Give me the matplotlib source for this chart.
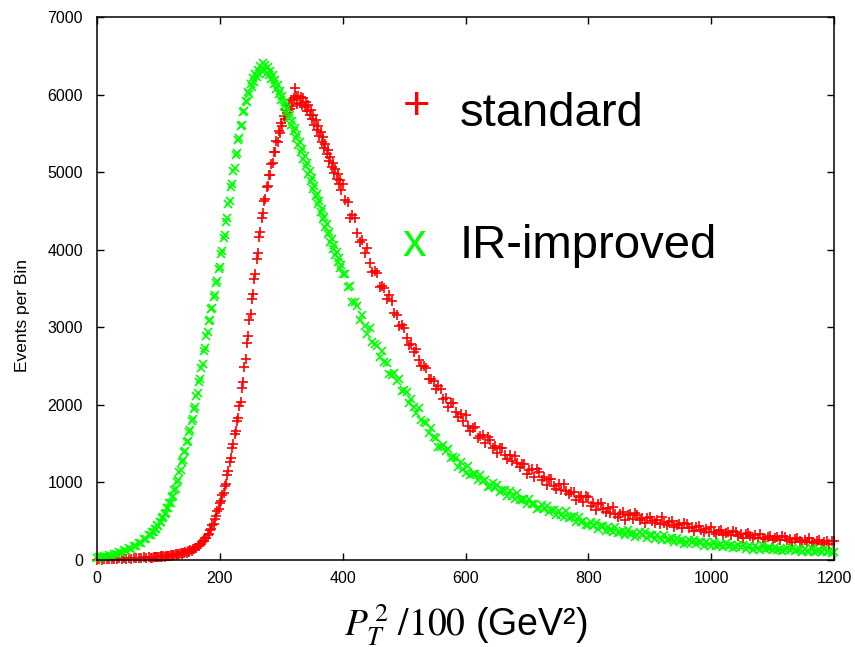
import numpy as np
import matplotlib
matplotlib.use("Agg")
import matplotlib.pyplot as plt

plt.rcParams["font.family"] = ["Liberation Sans", "DejaVu Sans"]
plt.rcParams["mathtext.fontset"] = "stix"

# Bin centres in PT^2/100: every 4 on the flat low end and the tail,
# every 2 around the peaks.
bins_low = np.arange(0, 90, 4)
bins_peak = np.arange(90, 400, 2)
bins_tail = np.arange(400, 1201, 4)

# Events per bin, standard shower
std_low = [2, 11, 5, 14, 7, 16, 9, 19, 12, 21, 14, 24, 17, 27, 19, 29, 21,
           32, 24, 34, 26, 37, 29]
std_peak = [
    31, 39, 34, 42, 37,
    44, 39, 47, 42, 50,
    45, 54, 49, 58, 53,
    62, 57, 67, 61, 72,
    67, 78, 72, 84, 79,
    89, 86, 99, 96, 111,
    106, 123, 121, 140, 137,
    157, 159, 183, 185, 209,
    210, 241, 248, 279, 286,
    318, 336, 382, 399, 446,
    462, 531, 561, 633, 659,
    734, 761, 839, 866, 958,
    985, 1097, 1144, 1261, 1314,
    1441, 1489, 1619, 1664, 1791,
    1829, 1983, 2041, 2214, 2297,
    2488, 2590, 2801, 2893, 3091,
    3171, 3359, 3428, 3617, 3690,
    3882, 3961, 4163, 4231, 4412,
    4468, 4631, 4659, 4812, 4821,
    4968, 4969, 5109, 5113, 5261,
    5263, 5401, 5389, 5527, 5499,
    5632, 5597, 5721, 5679, 5806,
    5761, 5871, 5812, 5931, 5852,
    5958, 6085, 5979, 5884, 5987,
    5889, 5971, 5866, 5951, 5839,
    5907, 5793, 5860, 5741, 5806,
    5688, 5741, 5611, 5669, 5541,
    5597, 5471, 5521, 5393, 5447,
    5315, 5368, 5233, 5284, 5149,
    5196, 5063, 5118, 4985, 5041,
    4912, 4971, 4841, 4899, 4771,
]
std_tail = [
    4852, 4637, 4611, 4408, 4452, 4410, 4219, 4098, 4121, 3960,
    4018, 3825, 3711, 3726, 3701, 3518, 3534, 3511, 3367, 3421,
    3339, 3186, 3162, 3013, 3032, 2997, 2860, 2776, 2790, 2679,
    2716, 2583, 2504, 2500, 2471, 2336, 2334, 2311, 2208, 2240,
    2202, 2078, 2091, 1971, 2030, 2023, 1909, 1842, 1882, 1787,
    1869, 1733, 1668, 1707, 1710, 1567, 1604, 1610, 1505, 1587,
    1545, 1448, 1471, 1377, 1440, 1446, 1354, 1306, 1350, 1276,
    1344, 1247, 1203, 1232, 1236, 1110, 1162, 1179, 1075, 1174,
    1130, 1032, 1064, 969, 1048, 1050, 960, 916, 974, 901,
    985, 887, 847, 872, 883, 778, 816, 828, 750, 822,
    806, 702, 734, 649, 722, 735, 655, 616, 671, 605,
    685, 595, 560, 597, 613, 520, 584, 598, 532, 601,
    581, 519, 542, 480, 535, 552, 502, 473, 521, 470,
    551, 478, 451, 486, 500, 422, 455, 468, 413, 473,
    460, 407, 429, 377, 427, 438, 388, 365, 404, 362,
    423, 361, 339, 373, 387, 320, 351, 365, 318, 374,
    360, 313, 335, 290, 335, 350, 306, 287, 322, 289,
    339, 290, 272, 299, 311, 254, 282, 297, 255, 305,
    293, 254, 273, 232, 274, 285, 246, 230, 263, 233,
    278, 236, 219, 243, 254, 207, 229, 241, 205, 247,
    240,
]

# Events per bin, IR-improved shower
ir_low = [22, 44, 33, 52, 41, 66, 58, 81, 71, 99, 92, 124, 114, 151, 146,
          184, 178, 224, 218, 270, 266, 323, 322]
ir_peak = [
    362, 358, 404, 398, 446,
    441, 489, 495, 541, 549,
    596, 603, 667, 671, 731,
    738, 812, 829, 905, 921,
    1002, 1031, 1129, 1158, 1259,
    1284, 1389, 1411, 1517, 1540,
    1648, 1675, 1797, 1820, 1951,
    1968, 2115, 2150, 2298, 2331,
    2481, 2527, 2690, 2731, 2889,
    2935, 3078, 3094, 3236, 3255,
    3392, 3421, 3571, 3598, 3748,
    3771, 3941, 3985, 4152, 4196,
    4362, 4411, 4589, 4632, 4806,
    4851, 5021, 5049, 5222, 5251,
    5412, 5440, 5597, 5611, 5771,
    5790, 5921, 5898, 6033, 6012,
    6141, 6098, 6209, 6161, 6270,
    6231, 6322, 6268, 6371, 6305,
    6402, 6311, 6378, 6281, 6349,
    6255, 6306, 6197, 6248, 6139,
    6191, 6078, 6122, 6001, 6051,
    5931, 5978, 5851, 5899, 5779,
    5823, 5702, 5741, 5611, 5658,
    5532, 5571, 5439, 5480, 5351,
    5392, 5262, 5301, 5169, 5210,
    5081, 5118, 4981, 5019, 4886,
    4921, 4788, 4826, 4689, 4722,
    4591, 4627, 4489, 4523, 4392,
    4421, 4290, 4327, 4197, 4229,
    4101, 4139, 4012, 4055, 3931,
    3969, 3847, 3889, 3762, 3801,
]
ir_tail = [
    3684, 3682, 3518, 3528, 3322, 3322, 3268, 3093, 3152, 3016,
    2916, 2996, 2806, 2784, 2762, 2618, 2690, 2549, 2534, 2396,
    2390, 2417, 2309, 2336, 2183, 2195, 2162, 2024, 2081, 1973,
    1895, 1963, 1806, 1784, 1762, 1641, 1700, 1585, 1575, 1460,
    1454, 1487, 1403, 1436, 1313, 1333, 1314, 1204, 1263, 1179,
    1121, 1206, 1097, 1104, 1112, 1029, 1102, 1018, 1026, 942,
    954, 990, 928, 967, 875, 904, 901, 821, 884, 825,
    789, 862, 771, 778, 786, 718, 783, 716, 727, 661,
    674, 712, 661, 700, 619, 648, 647, 576, 635, 585,
    556, 626, 547, 557, 567, 495, 556, 496, 507, 447,
    447, 484, 440, 477, 406, 434, 435, 373, 428, 384,
    358, 422, 351, 362, 373, 321, 391, 339, 351, 300,
    324, 362, 320, 358, 289, 318, 321, 268, 320, 283,
    262, 321, 260, 271, 283, 238, 289, 244, 256, 212,
    225, 261, 226, 262, 203, 231, 235, 183, 236, 200,
    184, 237, 185, 196, 208, 170, 216, 178, 190, 152,
    163, 195, 164, 197, 146, 172, 177, 133, 180, 150,
    134, 188, 137, 149, 161, 127, 167, 135, 146, 114,
    125, 153, 128, 156, 113, 135, 139, 102, 142, 117,
    104, 150, 107, 118, 129, 98, 139, 107, 118, 87,
    98,
]

x_ticks = [0, 200, 400, 600, 800, 1000, 1200]
y_ticks = [0, 1000, 2000, 3000, 4000, 5000, 6000, 7000]

W, H = 855, 647
RED = "#ff0000"
GREEN = "#00ff00"

bins = np.concatenate([bins_low, bins_peak, bins_tail])
std = np.array(std_low + std_peak + std_tail)
ir = np.array(ir_low + ir_peak + ir_tail)

fig = plt.figure(figsize=(W / 100, H / 100), dpi=100)
ax = fig.add_axes([97 / W, 1 - 560 / H, (834 - 97) / W, (560 - 17) / H])

ax.plot(bins, std, linestyle="none", marker="+", ms=6.5, mew=1.2,
        color=RED, clip_on=False)
ax.plot(bins, ir, linestyle="none", marker="x", ms=5.2, mew=1.2,
        color=GREEN, clip_on=False)

ax.set_xlim(0, 1200)
ax.set_ylim(0, 7000)
ax.set_xticks(x_ticks)
ax.set_yticks(y_ticks)
ax.tick_params(direction="in", length=5, width=1.0, top=True, right=True,
               labelsize=11.5)
ax.tick_params(axis="y", pad=10)
ax.tick_params(axis="x", pad=8)
for s in ax.spines.values():
    s.set_linewidth(1.1)

fig.text(22 / W, 1 - 315 / H, "Events per Bin", rotation=90,
         ha="center", va="center", fontsize=12.5)
fig.text(466 / W, 1 - 636 / H, r"$P_T^{\,2}\ \mathrm{/100}$ (GeV²)",
         ha="center", va="baseline", fontsize=27)

# key drawn as coloured glyphs next to the labels
fig.text(417 / W, 1 - 107 / H, "+", color=RED, fontsize=34,
         ha="center", va="center")
fig.text(460 / W, 1 - 126 / H, "standard", fontsize=34, va="baseline")
fig.text(414 / W, 1 - 244 / H, "x", color=GREEN, fontsize=34,
         ha="center", va="center")
fig.text(460 / W, 1 - 258 / H, "IR-improved", fontsize=34, va="baseline")

fig.savefig("out.png", dpi=100)
